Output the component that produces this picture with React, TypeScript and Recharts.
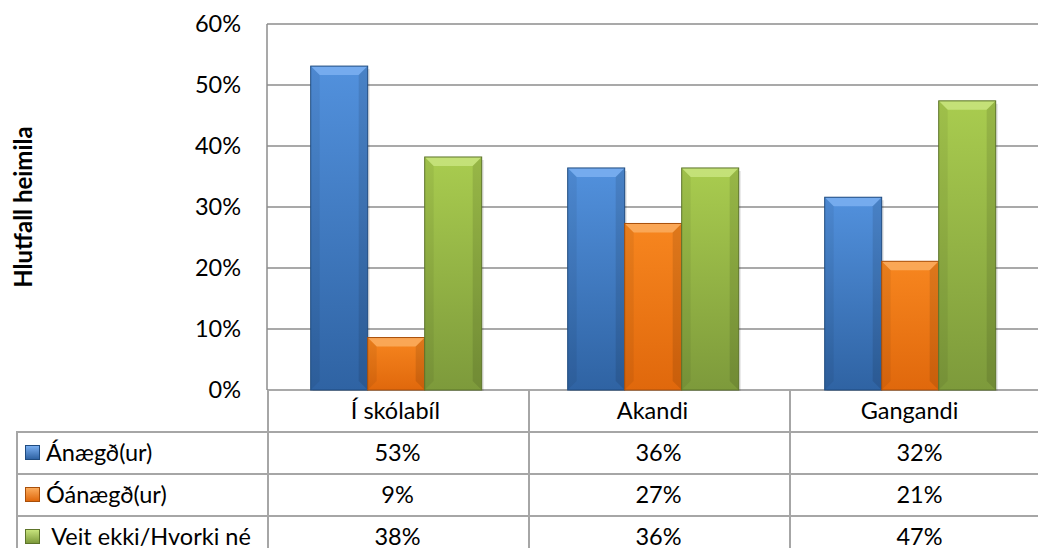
import { BarChart, Bar, XAxis, YAxis, CartesianGrid } from 'recharts';

const categories = ['Í skólabíl', 'Akandi', 'Gangandi'];
const anaegd = [53.1, 36.4, 31.6];
const oanaegd = [8.6, 27.3, 21.1];
const veitEkki = [38.2, 36.4, 47.4];
const yTicks = [0, 10, 20, 30, 40, 50, 60];

const seriesNames = ['Ánægð(ur)', 'Óánægð(ur)', ' Veit ekki/Hvorki né'];

const data = categories.map((name, i) => ({
  name,
  anaegd: anaegd[i],
  oanaegd: oanaegd[i],
  veitEkki: veitEkki[i],
}));

const tones = {
  blue: { top: '#5291dd', bottom: '#2f63a3', bevel: '#79aef0', edge: '#1f4b7f' },
  orange: { top: '#f7861f', bottom: '#e0680c', bevel: '#fbab5c', edge: '#a84f0a' },
  green: { top: '#a9cc4f', bottom: '#7d9a3b', bevel: '#c7e37c', edge: '#5d742a' },
};

type Tone = { top: string; bottom: string; bevel: string; edge: string };

const FONT = 'Lato, "DejaVu Sans", sans-serif';
const FS = 23.5;

function BevelBar(props: any) {
  const { x, y, width, height, tone, id } = props as { x: number; y: number; width: number; height: number; tone: Tone; id: string };
  if (!height || height <= 0) return null;
  const b = Math.min(9, height / 2, width / 4);
  return (
    <g>
      <defs>
        <linearGradient id={id} x1="0" y1="0" x2="0" y2="1">
          <stop offset="0" stopColor={tone.top} />
          <stop offset="1" stopColor={tone.bottom} />
        </linearGradient>
      </defs>
      <rect x={x + 2} y={y + 3} width={width} height={height - 2} fill="#000" opacity={0.12} />
      <rect x={x} y={y} width={width} height={height} fill={`url(#${id})`} />
      <polygon points={`${x},${y} ${x + width},${y} ${x + width - b},${y + b} ${x + b},${y + b}`} fill={tone.bevel} opacity={0.9} />
      <polygon points={`${x},${y} ${x + b},${y + b} ${x + b},${y + height - b} ${x},${y + height}`} fill="#000" opacity={0.06} />
      <polygon points={`${x + width},${y} ${x + width - b},${y + b} ${x + width - b},${y + height - b} ${x + width},${y + height}`} fill="#000" opacity={0.1} />
      <rect x={x} y={y} width={width} height={height} fill="none" stroke={tone.edge} strokeWidth={1} />
    </g>
  );
}

function YLabel(props: any) {
  const { viewBox } = props;
  const cy = viewBox.y + viewBox.height / 2;
  return (
    <text x={22} y={cy} transform={`rotate(-90 22 ${cy})`} textAnchor="middle" dominantBaseline="central"
      fontFamily={FONT} fontWeight="bold" fontSize={24} fill="#000">
      Hlutfall heimila
    </text>
  );
}

const lineColor = '#a6a6a6';
const rowValues = [anaegd, oanaegd, veitEkki];
const keyTones = [tones.blue, tones.orange, tones.green];

export default function App() {
  return (
    <div style={{ position: 'absolute', left: 0, top: 0, width: 1038, height: 548, background: '#fff', fontFamily: FONT, overflow: 'hidden' }}>
      <BarChart width={1038} height={548} data={data} margin={{ top: 24, right: 0, bottom: 0, left: 0 }}
        barCategoryGap="17%" barGap={0}>
        <CartesianGrid vertical={false} stroke="#8c8c8c" strokeWidth={1.5} />
        <XAxis dataKey="name" height={158} axisLine={false} tickLine={false} tickSize={0} tickMargin={12}
          tick={{ fontSize: FS, fill: '#000', fontFamily: FONT }} />
        <YAxis width={267} domain={[0, 60]} ticks={yTicks} tickFormatter={(v) => `${v}%`}
          axisLine={{ stroke: '#8c8c8c', strokeWidth: 1.5 }} tickLine={false} tickSize={0} tickMargin={26}
          tick={{ fontSize: FS, fill: '#000', fontFamily: FONT }} label={<YLabel />} />
        <Bar dataKey="anaegd" isAnimationActive={false} shape={(p: any) => <BevelBar {...p} tone={tones.blue} id={`gb${p.index}`} />} />
        <Bar dataKey="oanaegd" isAnimationActive={false} shape={(p: any) => <BevelBar {...p} tone={tones.orange} id={`go${p.index}`} />} />
        <Bar dataKey="veitEkki" isAnimationActive={false} shape={(p: any) => <BevelBar {...p} tone={tones.green} id={`gg${p.index}`} />} />
      </BarChart>

      {/* data table lines */}
      {[267, 528, 789].map((x) => (
        <div key={x} style={{ position: 'absolute', left: x, top: 390, width: 1.5, height: 158, background: lineColor }} />
      ))}
      <div style={{ position: 'absolute', left: 16, top: 431, width: 1.5, height: 117, background: lineColor }} />
      {[431, 473, 515].map((y) => (
        <div key={y} style={{ position: 'absolute', left: 16, top: y, width: 1022, height: 1.5, background: lineColor }} />
      ))}

      {seriesNames.map((s, r) => (
        <div key={s}>
          <div style={{ position: 'absolute', left: 25, top: 445 + r * 42, width: 15, height: 15, background: `linear-gradient(${keyTones[r].bevel}, ${keyTones[r].bottom})`, border: `1px solid ${keyTones[r].edge}`, boxSizing: 'border-box' }} />
          <div style={{ position: 'absolute', left: 46, top: 439.5 + r * 42, height: 24, lineHeight: '24px', fontSize: FS, whiteSpace: 'pre', color: '#000' }}>{s}</div>
          {rowValues[r].map((v, c) => (
            <div key={c} style={{ position: 'absolute', left: 267 + c * 261, top: 439.5 + r * 42, width: 261, height: 24, lineHeight: '24px', textAlign: 'center', fontSize: FS, color: '#000' }}>
              {`${Math.round(v)}%`}
            </div>
          ))}
        </div>
      ))}
    </div>
  );
}
